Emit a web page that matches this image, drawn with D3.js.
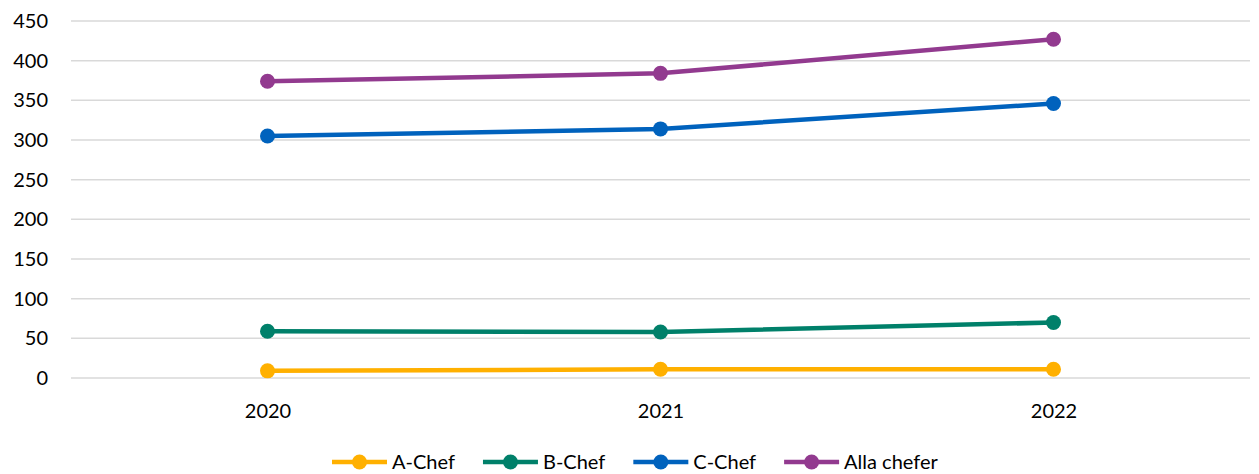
<!DOCTYPE html>
<html>
<head>
<meta charset="utf-8">
<script src="https://cdn.jsdelivr.net/npm/d3@7"></script>
<style>
  html, body { margin: 0; padding: 0; background: #fff; }
  svg { display: block; font-family: Lato, "Open Sans", sans-serif; }
</style>
</head>
<body>
<svg id="chart" width="1259" height="474"></svg>
<script>
// Years on the x axis
const years = ["2020", "2021", "2022"];

// Number of managers per category
const aChef = [9, 11, 11];
const bChef = [59, 58, 70];
const cChef = [305, 314, 346];
const allaChefer = [374, 384, 427];

// Y-axis ticks
const yTicks = [0, 50, 100, 150, 200, 250, 300, 350, 400, 450];

const seriesNames = ["A-Chef", "B-Chef", "C-Chef", "Alla chefer"];
const seriesColors = ["#FFB000", "#00806A", "#0062BD", "#923A8F"];
const seriesValues = [aChef, bChef, cChef, allaChefer];

const series = seriesNames.map((name, i) => ({
  name, color: seriesColors[i], values: seriesValues[i]
}));

const svg = d3.select("#chart");
const margin = { left: 71, right: 9, top: 21, bottom: 96 };
const W = 1259, H = 474;
const fontSize = 20;

const x = d3.scalePoint()
  .domain(years)
  .range([margin.left, W - margin.right])
  .padding(0.5);

const y = d3.scaleLinear()
  .domain([0, 450])
  .range([H - margin.bottom, margin.top]);

// Horizontal gridlines
svg.append("g")
  .selectAll("line")
  .data(yTicks)
  .join("line")
  .attr("x1", margin.left)
  .attr("x2", W - margin.right)
  .attr("y1", d => y(d))
  .attr("y2", d => y(d))
  .attr("stroke", "#d9d9d9")
  .attr("stroke-width", 1.5);

// Y axis labels
const yAxis = svg.append("g")
  .attr("transform", `translate(${margin.left - 23},0)`)
  .call(d3.axisLeft(y).tickValues(yTicks).tickSize(0).tickPadding(0));
yAxis.select(".domain").remove();
yAxis.selectAll("text")
  .attr("font-family", "Lato, 'Open Sans', sans-serif")
  .attr("font-size", fontSize)
  .attr("fill", "#000");

// X axis labels
const xAxis = svg.append("g")
  .attr("transform", `translate(0,${y(0) + 26})`)
  .call(d3.axisBottom(x).tickSize(0).tickPadding(0));
xAxis.select(".domain").remove();
xAxis.selectAll("text")
  .attr("font-family", "Lato, 'Open Sans', sans-serif")
  .attr("font-size", fontSize)
  .attr("fill", "#000");

// Lines and markers
const line = d3.line()
  .x((d, i) => x(years[i]))
  .y(d => y(d));

const g = svg.append("g");
series.forEach(s => {
  g.append("path")
    .datum(s.values)
    .attr("d", line)
    .attr("fill", "none")
    .attr("stroke", s.color)
    .attr("stroke-width", 4.5)
    .attr("stroke-linejoin", "round");
  g.selectAll(null)
    .data(s.values)
    .join("circle")
    .attr("cx", (d, i) => x(years[i]))
    .attr("cy", d => y(d))
    .attr("r", 7.5)
    .attr("fill", s.color);
});

// Legend
const legend = svg.append("g").attr("transform", "translate(332,462)");
let lx = 0;
series.forEach(s => {
  const item = legend.append("g").attr("transform", `translate(${lx},0)`);
  item.append("line")
    .attr("x1", 0).attr("x2", 55)
    .attr("y1", 0).attr("y2", 0)
    .attr("stroke", s.color)
    .attr("stroke-width", 4.5);
  item.append("circle")
    .attr("cx", 27.5).attr("cy", 0).attr("r", 7.5)
    .attr("fill", s.color);
  const t = item.append("text")
    .attr("x", 60)
    .attr("dy", "0.35em")
    .attr("font-size", fontSize)
    .attr("fill", "#000")
    .text(s.name);
  lx += 60 + t.node().getComputedTextLength() + 28;
});
</script>
</body>
</html>
